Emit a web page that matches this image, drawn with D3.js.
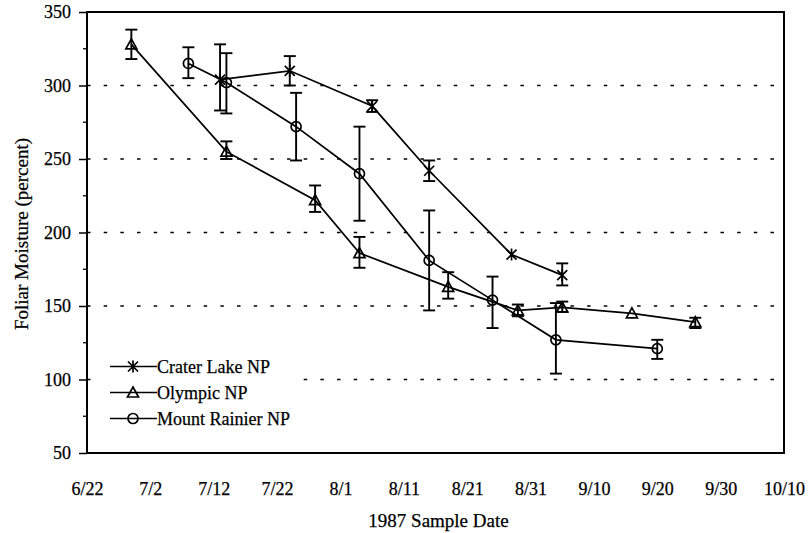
<!DOCTYPE html>
<html>
<head>
    <meta charset="utf-8">
    <title>Foliar Moisture 1987</title>
    <script type="text/javascript" src="https://cdn.jsdelivr.net/npm/d3@7"></script>
</head>
<body>
<div id="chart"></div>
</body>
</html>

<style type="text/css">
body {
  margin: 0;
  background: #fff;
  font-family: "Liberation Serif", "Times New Roman", serif;
}

text {
  fill: #000;
  stroke: #000;
  stroke-width: 0.25;
}

.grid line {
  stroke: #000;
  stroke-width: 1.3;
  stroke-dasharray: 3.5, 13.17;
}

.series path.line {
  fill: none;
  stroke: #000;
  stroke-width: 1.7;
}

.err line {
  stroke: #000;
  stroke-width: 1.9;
}

.marker {
  fill: none;
  stroke: #000;
  stroke-width: 1.7;
}

</style>

<script>

// sample dates (1987) and foliar moisture
var craterDates = ["7/13", "7/24", "8/6", "8/15", "8/28", "9/5"];
var craterMean  = [304, 310, 286, 242, 185, 171];
var craterLow   = [283, 300, 282, 235, null, 164];
var craterHigh  = [328, 320, 290, 249, null, 179];

var olympicDates = ["6/29", "7/14", "7/28", "8/4", "8/18", "8/29", "9/5", "9/16", "9/26"];
var olympicMean  = [328, 255, 222, 186, 163, 147, 149, 145, 139];
var olympicLow   = [318, 250, 214, 176, 155, 143, 146, null, 135];
var olympicHigh  = [338, 262, 232, 197, 173, 151, 153, null, 142];

var rainierDates = ["7/8", "7/14", "7/25", "8/4", "8/15", "8/25", "9/4", "9/20"];
var rainierMean  = [315, 302, 272, 240, 181, 154, 127, 121];
var rainierLow   = [305, 281, 249, 208, 147, 135, 104, 114];
var rainierHigh  = [326, 322, 295, 272, 215, 170, 152, 127];

var xTickLabels = ["6/22", "7/2", "7/12", "7/22", "8/1", "8/11", "8/21", "8/31", "9/10", "9/20", "9/30", "10/10"];
var yTicks = [50, 100, 150, 200, 250, 300, 350];
var yGridTicks = [100, 150, 200, 250, 300];

var seriesNames = ["Crater Lake NP", "Olympic NP", "Mount Rainier NP"];
var seriesShapes = ["star", "triangle", "circle"];

var parseDay = d3.timeParse("%m/%d/%Y");
function toDate(s) { return parseDay(s + "/1987"); }

function buildSeries(dates, mean, low, high) {
    var out = [];
    for (var i = 0; i < dates.length; i++) {
        out.push({date: toDate(dates[i]), value: mean[i], low: low[i], high: high[i]});
    }
    return out;
}

var series = [
    {name: seriesNames[0], shape: seriesShapes[0], values: buildSeries(craterDates, craterMean, craterLow, craterHigh)},
    {name: seriesNames[1], shape: seriesShapes[1], values: buildSeries(olympicDates, olympicMean, olympicLow, olympicHigh)},
    {name: seriesNames[2], shape: seriesShapes[2], values: buildSeries(rainierDates, rainierMean, rainierLow, rainierHigh)}
];

var width = 808,
    height = 533;

var margin = {top: 12, right: 24, bottom: 80, left: 87};
var plotW = width - margin.left - margin.right,
    plotH = height - margin.top - margin.bottom;

var x = d3.scaleTime()
    .domain([toDate(xTickLabels[0]), toDate(xTickLabels[xTickLabels.length - 1])])
    .range([0, plotW]);

var y = d3.scaleLinear()
    .domain([50, 350])
    .range([plotH, 0]);

var svg = d3.select("#chart")
    .append("svg")
    .attr("width", width)
    .attr("height", height)
        .append("g")
        .attr("transform", "translate(" + margin.left + "," + margin.top + ")");

// dotted horizontal gridlines
svg.append("g")
    .attr("class", "grid")
    .selectAll("line")
    .data(yGridTicks)
    .enter().append("line")
    .attr("x1", 0)
    .attr("x2", plotW)
    .attr("y1", function(d) { return y(d); })
    .attr("y2", function(d) { return y(d); });

// y axis, major ticks plus little minor ones
var yAxis = svg.append("g")
    .call(d3.axisLeft(y).tickValues(yTicks).tickSize(8).tickPadding(8));
yAxis.select(".domain").remove();
yAxis.selectAll("line").attr("stroke-width", 1.5);
yAxis.selectAll("text")
    .style("font-family", "Liberation Serif")
    .style("font-size", "18px");

svg.append("g")
    .selectAll("line")
    .data(d3.range(75, 350, 50))
    .enter().append("line")
    .attr("x1", -4)
    .attr("x2", 0)
    .attr("y1", function(d) { return y(d); })
    .attr("y2", function(d) { return y(d); })
    .attr("stroke", "#000")
    .attr("stroke-width", 1.3);

// x axis labels
var xAxis = svg.append("g")
    .attr("transform", "translate(0," + plotH + ")")
    .call(d3.axisBottom(x)
        .tickValues(xTickLabels.map(toDate))
        .tickFormat(function(d, i) { return xTickLabels[i]; })
        .tickSize(0)
        .tickPadding(29));
xAxis.select(".domain").remove();
xAxis.selectAll("text")
    .style("font-family", "Liberation Serif")
    .style("font-size", "18px");

// plot frame
svg.append("rect")
    .attr("x", 0)
    .attr("y", 0)
    .attr("width", plotW)
    .attr("height", plotH)
    .attr("fill", "none")
    .attr("stroke", "#000")
    .attr("stroke-width", 2);

function markerPath(shape) {
    var s = 5;
    if (shape == "star") {
        return "M" + (-s) + "," + (-s) + "L" + s + "," + s +
               "M" + (-s) + "," + s + "L" + s + "," + (-s) +
               "M0," + (-s - 1) + "L0," + (s + 1);
    }
    if (shape == "triangle") {
        return "M0,-5.5L5.5,4.5L-5.5,4.5Z";
    }
    return d3.arc().innerRadius(0).outerRadius(5).startAngle(0).endAngle(2 * Math.PI)();
}

var line = d3.line()
    .x(function(d) { return x(d.date); })
    .y(function(d) { return y(d.value); });

var g = svg.selectAll(".series")
    .data(series)
    .enter().append("g")
    .attr("class", "series");

g.append("path")
    .attr("class", "line")
    .attr("d", function(d) { return line(d.values); });

// error bars
var err = g.append("g")
    .attr("class", "err")
    .selectAll("g")
    .data(function(d) { return d.values.filter(function(v) { return v.low != null; }); })
    .enter().append("g")
    .attr("transform", function(d) { return "translate(" + x(d.date) + ",0)"; });

err.append("line")
    .attr("x1", 0).attr("x2", 0)
    .attr("y1", function(d) { return y(d.low); })
    .attr("y2", function(d) { return y(d.high); });
err.append("line")
    .attr("x1", -6).attr("x2", 6)
    .attr("y1", function(d) { return y(d.low); })
    .attr("y2", function(d) { return y(d.low); });
err.append("line")
    .attr("x1", -6).attr("x2", 6)
    .attr("y1", function(d) { return y(d.high); })
    .attr("y2", function(d) { return y(d.high); });

g.each(function(s) {
    d3.select(this).selectAll(".marker")
        .data(s.values)
        .enter().append("path")
        .attr("class", "marker")
        .attr("transform", function(d) { return "translate(" + x(d.date) + "," + y(d.value) + ")"; })
        .attr("d", markerPath(s.shape));
});

// legend
var legend = svg.append("g")
    .attr("transform", "translate(8," + (y(100) - 26) + ")");

legend.append("rect")
    .attr("x", 0)
    .attr("y", 0)
    .attr("width", 205)
    .attr("height", 76)
    .attr("fill", "#fff");

var legendRow = legend.selectAll(".legend")
    .data(series)
    .enter().append("g")
    .attr("class", "legend")
    .attr("transform", function(d, i) { return "translate(0," + (13 + i * 26) + ")"; });

legendRow.append("line")
    .attr("x1", 15)
    .attr("x2", 62)
    .attr("y1", 0)
    .attr("y2", 0)
    .attr("stroke", "#000")
    .attr("stroke-width", 1.7);

legendRow.append("path")
    .attr("class", "marker")
    .attr("transform", "translate(38,0)")
    .attr("d", function(d) { return markerPath(d.shape); });

legendRow.append("text")
    .attr("x", 62)
    .attr("dy", "0.35em")
    .style("font-family", "Liberation Serif")
    .style("font-size", "18px")
    .text(function(d) { return d.name; });

// axis titles
svg.append("text")
    .attr("transform", "translate(" + (28 - margin.left) + "," + (234 - margin.top) + ") rotate(-90)")
    .attr("text-anchor", "middle")
    .style("font-family", "Liberation Serif")
    .style("font-size", "19px")
    .text("Foliar Moisture (percent)");

svg.append("text")
    .attr("x", plotW / 2 + 3)
    .attr("y", 527 - margin.top)
    .attr("text-anchor", "middle")
    .style("font-family", "Liberation Serif")
    .style("font-size", "19px")
    .text("1987 Sample Date");

</script>
